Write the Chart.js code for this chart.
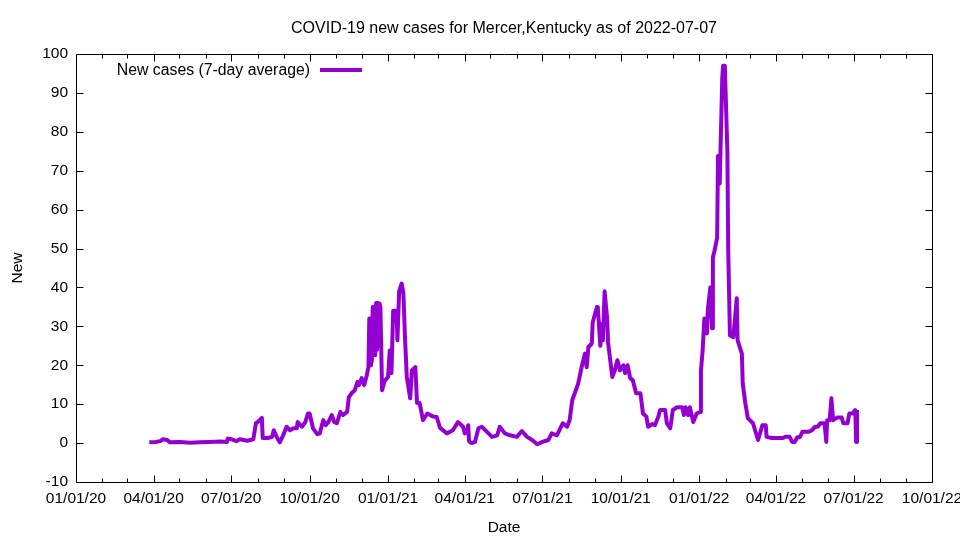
<!DOCTYPE html>
<html><head><meta charset="utf-8">
<script src="https://cdn.jsdelivr.net/npm/chart.js@4.4.0/dist/chart.umd.min.js"></script>
<style>html,body{margin:0;padding:0;background:#fff;}#wrap{width:960px;height:540px;}</style>
</head><body><div id="wrap"><canvas id="c" width="960" height="540"></canvas></div>
<script>
// Days since 2020-01-01
const days = [
  86,93,99,102,107,110,122,134,145,157,
  169,177,178,182,188,192,201,208,211,213,
  218,219,225,230,232,236,239,243,247,251,
  255,259,260,265,269,272,274,278,283,286,
  290,293,296,300,303,306,310,313,318,320,
  324,327,330,332,335,338,341,343,
  344,345,346,347,348,349,350,351,352,353,
  354,355,356,357,359,362,366,368,370,372,
  376,377,379,382,384,386,388,392,394,398,
  400,403,407,412,419,423,427,435,442,448,
  454,456,459,460,461,464,468,472,476,482,
  488,494,497,503,509,517,523,529,535,541,
  547,554,558,564,568,571,576,579,582,585,
  589,593,597,599,601,605,606,611,612,615,
  617,618,620,623,624,629,632,635,638,642,
  644,647,650,653,657,662,665,669,671,676,
  679,683,685,691,693,697,700,705,711,713,
  715,718,720,724,728,732,733,735,737,740,
  741,744,746,747,749,752,753,755,758,759,
  761,764,765,767,771,775,776,781,782,785,
  788,794,800,805,809,810,816,829,832,837,
  840,843,846,849,852,859,863,867,870,873,
  878,880,881,884,886,888,893,898,900,905,
  907,911,914,915,916
];
// New cases (7-day average)
const newCases = [
  0.2,0.3,0.5,1.0,0.8,0.2,0.3,0.1,0.2,0.3,
  0.4,0.3,1.2,1.0,0.5,1.0,0.6,1.0,5.1,5.4,
  6.5,1.3,1.3,1.6,3.3,1.3,0.2,2.0,4.2,3.3,
  3.8,3.8,5.4,4.2,5.4,7.6,7.6,3.8,2.3,2.5,
  5.9,4.6,5.4,7.2,5.4,5.1,8.0,7.2,8.0,11.8,
  13,13.6,15.7,14.9,16.7,14.9,17.4,19.5,
  32,20,32,21,35,23,35,22.6,36,24,
  36,25,35.9,35,13.6,16,17,23.8,18,34,
  34,26.4,39,41,38.4,26.4,17,11.5,18.7,19.5,
  10.3,10.3,5.9,7.6,6.8,6.7,3.9,2.5,3.3,5.4,
  4.2,2.5,3.3,4.6,0.5,0,0.3,3.8,4.2,2.9,
  1.6,2,4.2,2.5,2,1.6,3.1,1.6,0.8,-0.3,
  0.3,0.8,2.5,2,3.8,5.1,4.2,5.9,11,12.8,
  15.3,19.5,23,19.5,24.7,25.6,31,35,35,25,
  30.7,26.4,39,32,26,17,18.7,21.3,18.7,20,
  18,20,16.7,16.2,12.8,12.8,7.6,6.8,4.2,4.9,
  4.6,6.8,8.5,8.5,5.1,3.8,8.5,9.2,9.2,7.2,
  9.2,7.2,9.2,5.4,7.6,8,18.7,23.8,32,28.2,
  34,40,29.5,47.7,49.5,52.8,73.8,66.7,93.8,97,
  97,75,49.5,27.7,27.2,37.2,26.4,23,15.3,10.3,
  6.4,5.1,0.8,4.6,4.6,1.6,1.3,1.3,1.6,1.6,
  0.3,0.3,1.5,1.5,2.9,2.9,3.3,4.2,4.2,5.1,
  5.1,0.3,5.9,5.9,11.5,5.9,6.6,6.6,5.1,5.1,
  7.6,7.6,8.5,0.3,8.5
];
const xTickDays = [0,91,182,274,366,456,547,639,731,821,912,1004];
const xTickLabels = ['01/01/20','04/01/20','07/01/20','10/01/20','01/01/21','04/01/21','07/01/21','10/01/21','01/01/22','04/01/22','07/01/22','10/01/22'];
const seriesLabel = 'New cases (7-day average)';
const titleText = 'COVID-19 new cases for Mercer,Kentucky as of 2022-07-07';

const LINE = '#9400D3';
const FONT = '"Liberation Sans", Arial, sans-serif';
const FS = 15.5;

const monthTicks = [];
for (let y = 2020; y <= 2022; y++) for (let m = 0; m < 12; m++) {
  const d = Math.round((Date.UTC(y, m, 1) - Date.UTC(2020, 0, 1)) / 86400000);
  if (d <= 1004) monthTicks.push(d);
}

const framePlugin = {
  id: 'frame',
  afterDatasetsDraw(chart) {
    const ctx = chart.ctx, a = chart.chartArea;
    const xs = chart.scales.x, ys = chart.scales.y;
    ctx.save();
    ctx.strokeStyle = '#000';
    ctx.lineWidth = 1;
    ctx.beginPath();
    const L = Math.round(a.left) + 0.5, R = Math.round(a.right) + 0.5;
    const T = Math.round(a.top) + 0.5, B = Math.round(a.bottom) + 0.5;
    ctx.rect(L, T, R - L, B - T);
    monthTicks.forEach(d => {
      const px = Math.round(xs.getPixelForValue(d)) + 0.5;
      const len = xTickDays.includes(d) ? 7 : 4;
      ctx.moveTo(px, B); ctx.lineTo(px, B - len);
      ctx.moveTo(px, T); ctx.lineTo(px, T + len);
    });
    for (let v = -10; v <= 100; v += 10) {
      const py = Math.round(ys.getPixelForValue(v)) + 0.5;
      ctx.moveTo(L, py); ctx.lineTo(L + 7, py);
      ctx.moveTo(R, py); ctx.lineTo(R - 7, py);
    }
    ctx.stroke();
    // legend (inside plot, top-left, key sample right of text)
    ctx.font = '15.8px ' + FONT;
    ctx.fillStyle = '#000';
    ctx.textAlign = 'right';
    ctx.textBaseline = 'middle';
    ctx.fillText(seriesLabel, 310, 71);
    ctx.strokeStyle = LINE;
    ctx.lineWidth = 4;
    ctx.beginPath();
    ctx.moveTo(320, 70); ctx.lineTo(362, 70);
    ctx.stroke();
    ctx.restore();
  }
};

new Chart(document.getElementById('c'), {
  type: 'line',
  data: {
    datasets: [{
      label: seriesLabel,
      data: days.map((d, i) => ({x: d, y: newCases[i]})),
      borderColor: LINE,
      backgroundColor: LINE,
      borderWidth: 4,
      pointRadius: 0,
      tension: 0,
      fill: false,
      borderJoinStyle: 'round'
    }]
  },
  options: {
    responsive: false,
    animation: false,
    devicePixelRatio: 1,
    layout: {padding: {left: 0, right: 28, top: 0, bottom: 0}},
    plugins: {
      legend: {display: false},
      tooltip: {enabled: false},
      title: {
        display: true,
        fullSize: false,
        text: titleText,
        color: '#000',
        font: {family: FONT, size: 16, weight: 'normal'},
        padding: {top: 19.4, bottom: 15.4}
      }
    },
    scales: {
      x: {
        type: 'linear',
        min: 0, max: 1004,
        afterBuildTicks: s => { s.ticks = xTickDays.map(v => ({value: v})); },
        afterFit: s => { s.height = 58; s.paddingLeft = 0; s.paddingRight = 0; },
        grid: {display: false, drawTicks: false},
        border: {display: false},
        ticks: {
          color: '#000',
          font: {family: FONT, size: FS},
          padding: 7,
          maxRotation: 0,
          autoSkip: false,
          callback: v => { const i = xTickDays.indexOf(v); return i >= 0 ? xTickLabels[i] : ''; }
        },
        title: {display: true, text: 'Date', color: '#000', font: {family: FONT, size: FS}, padding: {top: 0, bottom: 2.7}}
      },
      y: {
        min: -10, max: 100,
        afterFit: s => { s.width = 76; s.paddingTop = 0; s.paddingBottom = 0; },
        grid: {display: false, drawTicks: false},
        border: {display: false},
        ticks: {
          stepSize: 10,
          color: '#000',
          font: {family: FONT, size: FS},
          padding: 8
        },
        title: {display: true, text: 'New', color: '#000', font: {family: FONT, size: FS}, padding: {top: 8.7, bottom: 0}}
      }
    }
  },
  plugins: [framePlugin]
});
</script>
</body></html>
